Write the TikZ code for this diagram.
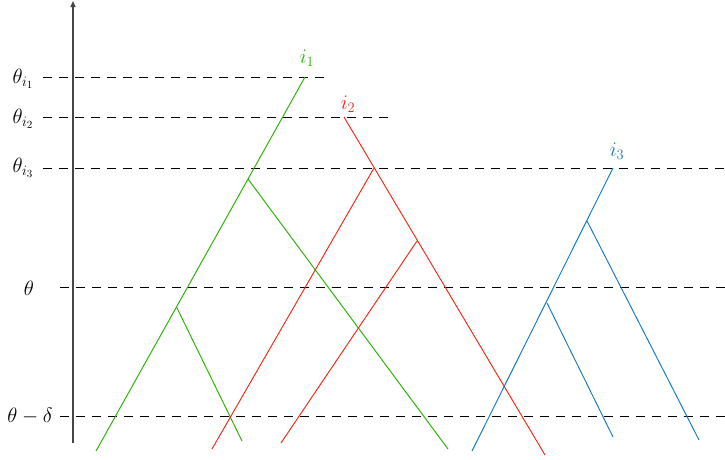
\documentclass[tikz,border=0pt]{standalone}
\usetikzlibrary{arrows.meta}
\definecolor{tgreen}{RGB}{40,178,0}
\definecolor{tred}{RGB}{240,40,20}
\definecolor{tblue}{RGB}{20,120,195}
\definecolor{axisgray}{RGB}{70,70,70}
\begin{document}
\begin{tikzpicture}[x=1pt,y=-1pt,
  level/.style={draw=black,line width=0.9pt,dash pattern=on 9pt off 7pt},
  branch/.style={line width=0.95pt},
  lab/.style={font=\fontsize{22.5}{26}\selectfont,inner sep=0pt},
  tlab/.style={font=\fontsize{22}{26}\selectfont,inner sep=0pt}]
\useasboundingbox (0,0) rectangle (725,459);
% axis
\coordinate (a0) at (73,443);
\coordinate (a1) at (73,1);
\draw[axisgray,line width=1.4pt,-{Triangle[length=6pt,width=5pt]}] (a0) -- (a1);
% level lines
\coordinate (l1s) at (43,77);  \coordinate (l1e) at (327,77);
\coordinate (l2s) at (43,117); \coordinate (l2e) at (391,117);
\coordinate (l3s) at (43,168); \coordinate (l3e) at (725,168);
\coordinate (l4s) at (60,287); \coordinate (l4e) at (725,287);
\coordinate (l5s) at (60,416); \coordinate (l5e) at (725,416);
\draw[level] (l1s) -- (l1e);
\draw[level] (l2s) -- (l2e);
\draw[level] (l3s) -- (l3e);
\draw[level] (l4s) -- (l4e);
\draw[level] (l5s) -- (l5e);
% axis labels
\node[lab] (t1) at (23,79) {$\theta_{i_1}$};
\node[lab] (t2) at (23,119) {$\theta_{i_2}$};
\node[lab] (t3) at (23,168) {$\theta_{i_3}$};
\node[lab] (t4) at (29,288) {$\theta$};
\node[lab] (t5) at (30,416) {$\theta-\delta$};
% green tree
\coordinate (g0) at (305,77);
\coordinate (g1) at (248,179);
\coordinate (g2) at (176.5,307);
\coordinate (g3) at (96,451);
\coordinate (g4) at (448,449);
\coordinate (g5) at (242,441);
\draw[tgreen,branch] (g0) -- (g3);
\draw[tgreen,branch] (g1) -- (g4);
\draw[tgreen,branch] (g2) -- (g5);
\node[tlab,text=tgreen] (gi) at (307,58) {$i_1$};
% red tree
\coordinate (r0) at (344,117);
\coordinate (r1) at (374,168);
\coordinate (r2) at (417,241);
\coordinate (r3) at (545,455);
\coordinate (r4) at (212,449);
\coordinate (r5) at (281,443);
\draw[tred,branch] (r0) -- (r3);
\draw[tred,branch] (r1) -- (r4);
\draw[tred,branch] (r2) -- (r5);
\node[tlab,text=tred] (ri) at (348,104) {$i_2$};
% blue tree
\coordinate (b0) at (613,168);
\coordinate (b1) at (587,221);
\coordinate (b2) at (547,303);
\coordinate (b3) at (472,451);
\coordinate (b4) at (699,440);
\coordinate (b5) at (613,437);
\draw[tblue,branch] (b0) -- (b3);
\draw[tblue,branch] (b1) -- (b4);
\draw[tblue,branch] (b2) -- (b5);
\node[tlab,text=tblue] (bi) at (617,151) {$i_3$};
\end{tikzpicture}
\end{document}
